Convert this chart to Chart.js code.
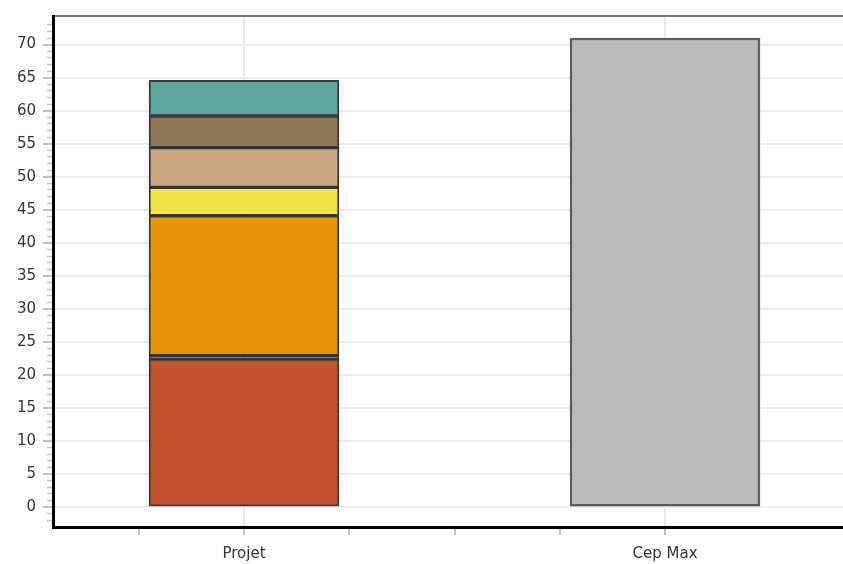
<!DOCTYPE html>
<html>
<head>
<meta charset="utf-8">
<script src="https://cdn.jsdelivr.net/npm/chart.js@4.4.0/dist/chart.umd.min.js"></script>
<style>
  html, body { margin: 0; padding: 0; background: #fff; overflow: hidden; }
  canvas { display: block; }
</style>
</head>
<body>
<canvas id="chart" width="843" height="564"></canvas>
<script>
// data
const categories = ['Projet', 'Cep Max'];
// pieces of the Projet bar, bottom to top
const projetValues = [22.4, 0.5, 21.2, 4.3, 6.0, 4.8, 5.4];
const projetColors = ['#c4532f', '#4b6a80', '#e5950a', '#f4e547', '#c9a584', '#8b7753', '#5ea59e'];
const cepMaxValues = [71];
const yTickValues = [0, 5, 10, 15, 20, 25, 30, 35, 40, 45, 50, 55, 60, 65, 70];

const labelFont = { family: 'DejaVu Sans', size: 15 };
const labelColor = '#33333f';

const near = (v, step) => Math.abs(v / step - Math.round(v / step)) < 1e-6;

const datasets = projetValues.map((v, i) => ({
    label: 'Projet ' + (i + 1),
    data: [{ x: categories.indexOf('Projet') + 1, y: v }],
    backgroundColor: projetColors[i],
    borderColor: 'rgba(25, 25, 25, 0.85)',
    borderWidth: 2,
    borderSkipped: false,
    barThickness: 190
}));
datasets.push({
    label: 'Cep Max',
    data: cepMaxValues.map(v => ({ x: categories.indexOf('Cep Max') + 1, y: v })),
    backgroundColor: '#bababa',
    borderColor: '#5e5e5e',
    borderWidth: 2.5,
    borderSkipped: false,
    barThickness: 190
});

const xMin = 0.5463, xMax = 2.4228;
const yMin = -3.015, yMax = 74.33;

new Chart(document.getElementById('chart'), {
    type: 'bar',
    data: { datasets: datasets },
    options: {
        responsive: false,
        animation: false,
        layout: { padding: 0 },
        plugins: {
            legend: { display: false },
            tooltip: { enabled: false }
        },
        scales: {
            x: {
                type: 'linear',
                position: 'bottom',
                offset: false,
                min: xMin,
                max: xMax,
                stacked: true,
                afterBuildTicks: s => { s.ticks = s.ticks.filter(t => near(t.value, 0.25)); },
                afterFit: s => { s.height = 37; },
                ticks: {
                    stepSize: 0.25,
                    autoSkip: false,
                    maxRotation: 0,
                    padding: 10,
                    font: labelFont,
                    color: labelColor,
                    callback: v => near(v, 1) ? (categories[Math.round(v) - 1] || '') : ''
                },
                grid: {
                    offset: false,
                    color: ctx => (ctx.tick && near(ctx.tick.value, 1)) ? '#e8e8e8' : 'rgba(0,0,0,0)',
                    lineWidth: 2,
                    tickColor: '#c4c4c4',
                    tickWidth: 2,
                    tickLength: 8
                },
                border: { color: '#000000', width: 3 }
            },
            xTop: {
                type: 'linear',
                position: 'top',
                min: 0,
                max: 1,
                afterFit: s => { s.height = 14; },
                ticks: { display: false },
                grid: { drawOnChartArea: false, drawTicks: false },
                border: { color: '#7a7a7a', width: 2 }
            },
            y: {
                type: 'linear',
                position: 'left',
                weight: 1,
                min: yMin,
                max: yMax,
                stacked: true,
                afterBuildTicks: s => { s.ticks = s.ticks.filter(t => yTickValues.some(v => Math.abs(v - t.value) < 1e-6)); },
                afterFit: s => { s.width = 53; },
                ticks: {
                    stepSize: 5,
                    autoSkip: false,
                    padding: 7,
                    font: labelFont,
                    color: labelColor
                },
                grid: {
                    color: '#ececec',
                    lineWidth: 2,
                    tickColor: '#bdbdbd',
                    tickWidth: 2,
                    tickLength: 10
                },
                border: { color: '#000000', width: 3 }
            },
            yMinor: {
                type: 'linear',
                position: 'left',
                weight: 0,
                min: yMin,
                max: yMax,
                afterBuildTicks: s => { s.ticks = s.ticks.filter(t => near(t.value, 1)); },
                afterFit: s => { s.width = 0; },
                ticks: { display: false, stepSize: 1, autoSkip: false },
                grid: {
                    drawOnChartArea: false,
                    tickColor: '#c4c4c4',
                    tickWidth: 1.5,
                    tickLength: 6
                },
                border: { display: false }
            }
        }
    }
});
</script>
</body>
</html>
